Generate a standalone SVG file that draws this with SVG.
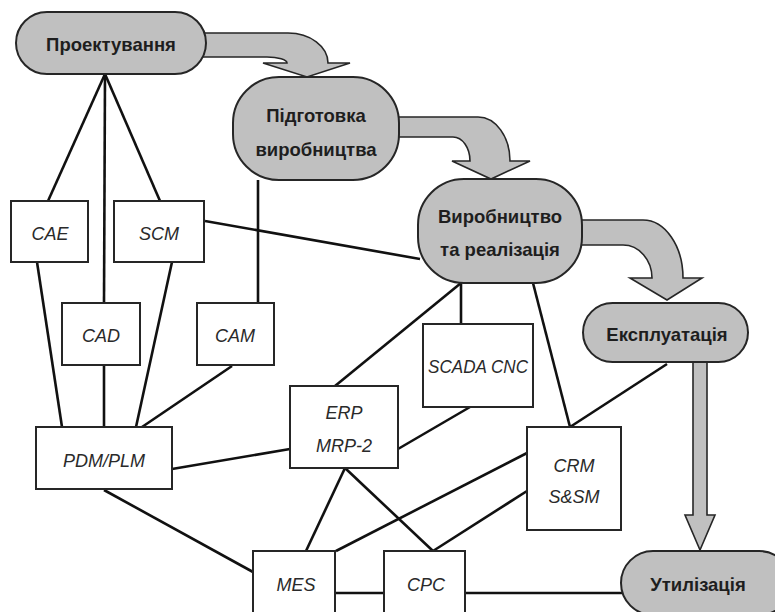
<svg xmlns="http://www.w3.org/2000/svg" width="775" height="612" viewBox="0 0 775 612">
<style>
.pill{fill:#c0c0c0;stroke:#262626;stroke-width:2}
.box{fill:#ffffff;stroke:#262626;stroke-width:2}
.arr{fill:#c0c0c0;stroke:#262626;stroke-width:1.6;stroke-linejoin:miter}
.ln{stroke:#111;stroke-width:2.6;fill:none}
.pt{font-family:"Liberation Sans",Arial,sans-serif;font-weight:bold;font-size:18.5px;fill:#1e1e1e;text-anchor:middle}
.bt{font-family:"Liberation Sans",Arial,sans-serif;font-style:italic;font-size:18px;fill:#2a2a2a;text-anchor:middle}
</style>
<rect width="775" height="612" fill="#ffffff"/>
<g id="connectors">
<line class="ln" x1="105" y1="74" x2="48" y2="201"/>
<line class="ln" x1="105" y1="74" x2="104" y2="303"/>
<line class="ln" x1="105" y1="74" x2="160" y2="201"/>
<line class="ln" x1="37" y1="262" x2="62" y2="427"/>
<line class="ln" x1="104" y1="365" x2="104" y2="427"/>
<line class="ln" x1="172" y1="262" x2="136" y2="427"/>
<line class="ln" x1="232" y1="366" x2="142" y2="427"/>
<line class="ln" x1="258" y1="180" x2="258" y2="303"/>
<line class="ln" x1="205" y1="221" x2="420" y2="259"/>
<line class="ln" x1="461" y1="283" x2="335" y2="386"/>
<line class="ln" x1="461" y1="283" x2="461" y2="324"/>
<line class="ln" x1="533" y1="283" x2="570" y2="427"/>
<line class="ln" x1="172" y1="469" x2="290" y2="449"/>
<line class="ln" x1="470" y1="407" x2="398" y2="449"/>
<line class="ln" x1="104" y1="490" x2="253" y2="572"/>
<line class="ln" x1="345" y1="468" x2="306" y2="551"/>
<line class="ln" x1="345" y1="468" x2="433" y2="551"/>
<line class="ln" x1="527" y1="453" x2="336" y2="551"/>
<line class="ln" x1="527" y1="491" x2="433" y2="551"/>
<line class="ln" x1="667" y1="364" x2="570" y2="427"/>
<line class="ln" x1="335" y1="593" x2="384" y2="593"/>
<line class="ln" x1="465" y1="593" x2="622" y2="593"/>
</g>
<g id="flow-arrows">
<path class="arr" d="M195,33 L288,33 A40,30 0 0 1 328,63 L350,63 L307,77 L263,63 L287,63 A20,6 0 0 0 267,57 L195,57 Z"/>
<path class="arr" d="M390,117 L478,117 A32,44 0 0 1 510,161 L530,161 L491,179 L452,161 L470,161 A17,24 0 0 0 453,137 L390,137 Z"/>
<path class="arr" d="M575,220 L643,220 A40,58 0 0 1 683,278 L702,278 L667,300 L630,278 L652,278 A29,33 0 0 0 623,245 L575,245 Z"/>
<path class="arr" d="M693,358 L707,358 L707,515 L715,515 L700,550 L685,515 L693,515 Z"/>
</g>
<g id="n-proektuvannia">
<rect class="pill" x="16" y="12" width="190" height="62" rx="31" ry="31"/>
<text class="pt" x="111" y="51">Проектування</text>
</g>
<g id="n-pidhotovka">
<rect class="pill" x="233" y="77" width="166" height="103" rx="46" ry="46"/>
<text class="pt" x="316" y="122">Підготовка</text>
<text class="pt" x="316" y="156">виробництва</text>
</g>
<g id="n-vyrobnytstvo">
<rect class="pill" x="418" y="179" width="164" height="104" rx="46" ry="46"/>
<text class="pt" x="500" y="223">Виробництво</text>
<text class="pt" x="500" y="256">та реалізація</text>
</g>
<g id="n-ekspluatatsiia">
<rect class="pill" x="583" y="303" width="165" height="59" rx="29.5" ry="29.5"/>
<text class="pt" x="667" y="341">Експлуатація</text>
</g>
<g id="n-utylizatsiia">
<rect class="pill" x="621" y="551" width="170" height="64" rx="32" ry="32"/>
<text class="pt" x="698" y="591">Утилізація</text>
</g>
<g id="n-cae">
<rect class="box" x="11" y="201" width="77" height="61"/>
<text class="bt" x="50" y="240">CAE</text>
</g>
<g id="n-scm">
<rect class="box" x="114" y="201" width="90" height="61"/>
<text class="bt" x="159" y="240">SCM</text>
</g>
<g id="n-cad">
<rect class="box" x="62" y="303" width="78" height="62"/>
<text class="bt" x="101" y="342">CAD</text>
</g>
<g id="n-cam">
<rect class="box" x="197" y="303" width="77" height="62"/>
<text class="bt" x="235" y="342">CAM</text>
</g>
<g id="n-scada">
<rect class="box" x="423" y="324" width="110" height="83"/>
<text class="bt" x="478" y="373" textLength="100" lengthAdjust="spacingAndGlyphs">SCADA CNC</text>
</g>
<g id="n-erp">
<rect class="box" x="290" y="386" width="108" height="82"/>
<text class="bt" x="344" y="419">ERP</text>
<text class="bt" x="344" y="452">MRP-2</text>
</g>
<g id="n-crm">
<rect class="box" x="527" y="427" width="94" height="103"/>
<text class="bt" x="574" y="472">CRM</text>
<text class="bt" x="574" y="503">S&amp;SM</text>
</g>
<g id="n-pdm">
<rect class="box" x="36" y="427" width="136" height="62"/>
<text class="bt" x="104" y="467">PDM/PLM</text>
</g>
<g id="n-mes">
<rect class="box" x="253" y="551" width="82" height="70"/>
<text class="bt" x="296" y="591">MES</text>
</g>
<g id="n-cpc">
<rect class="box" x="384" y="551" width="81" height="70"/>
<text class="bt" x="426" y="591">CPC</text>
</g>
</svg>
